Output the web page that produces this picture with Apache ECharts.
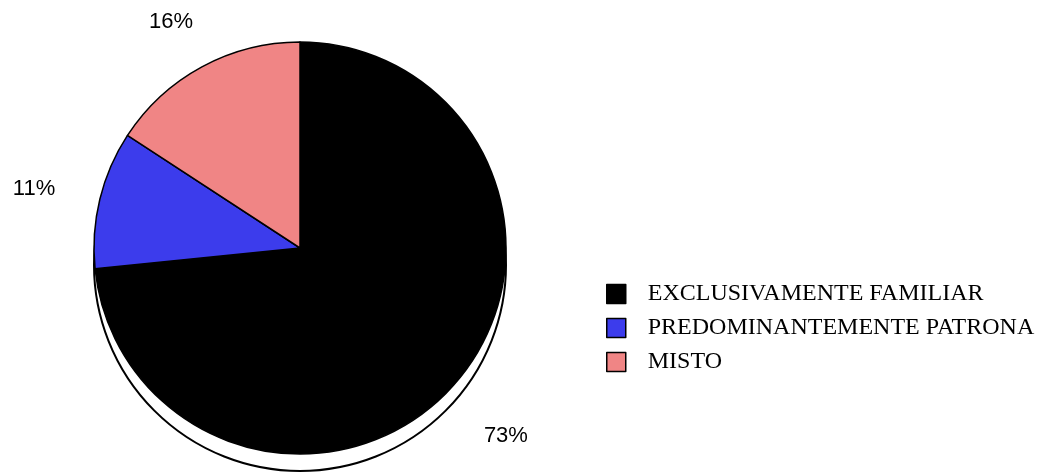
<!DOCTYPE html>
<html>
<head>
<meta charset="utf-8">
<script src="https://cdn.jsdelivr.net/npm/echarts@6/dist/echarts.min.js"></script>
<style>
html,body{margin:0;padding:0;background:#fff;}
#chart{width:1041px;height:473px;}
</style>
</head>
<body>
<div id="chart"></div>
<script>
const categories = ['EXCLUSIVAMENTE FAMILIAR', 'PREDOMINANTEMENTE PATRONA', 'MISTO'];
const values = [73.4, 10.8, 15.8];
const colors = ['#000000', '#3c3cec', '#f08585'];
const labelOffsets = [[-11, 16], [9, 1], [20, -1]];

const chart = echarts.init(document.getElementById('chart'));
chart.setOption({
  animation: false,
  backgroundColor: '#ffffff',
  legend: {
    data: categories,
    orient: 'vertical',
    left: 606,
    top: 282,
    itemWidth: 19,
    itemHeight: 19,
    itemGap: 10,
    icon: 'rect',
    itemStyle: { borderColor: '#000', borderWidth: 1.5 },
    textStyle: {
      fontFamily: '"Liberation Serif", "Times New Roman", serif',
      fontSize: 24,
      color: '#000',
      padding: [0, 0, 0, 17]
    },
    padding: 0,
    selectedMode: false
  },
  series: [
    {
      type: 'pie',
      silent: true,
      z: 1,
      center: [300, 265],
      radius: 206,
      label: { show: false },
      labelLine: { show: false },
      itemStyle: { color: '#ffffff', borderColor: '#000', borderWidth: 2 },
      data: [1]
    },
    {
      type: 'pie',
      z: 2,
      center: [300, 248],
      radius: 206,
      startAngle: 90,
      clockwise: true,
      percentPrecision: 0,
      data: categories.map((c, i) => ({ name: c, value: values[i], itemStyle: { color: colors[i] } })),
      itemStyle: { borderColor: '#000', borderWidth: 1.5 },
      label: {
        show: true,
        position: 'outside',
        formatter: '{d}%',
        overflow: 'none',
        width: 80,
        fontFamily: '"Liberation Sans", Arial, sans-serif',
        fontSize: 22,
        color: '#000'
      },
      labelLine: { show: false, length: 50, length2: 0 },
      labelLayout: function (p) {
        const o = labelOffsets[p.dataIndex];
        return { dx: o[0], dy: o[1] };
      },
      emphasis: { disabled: true }
    }
  ]
});
</script>
</body>
</html>
